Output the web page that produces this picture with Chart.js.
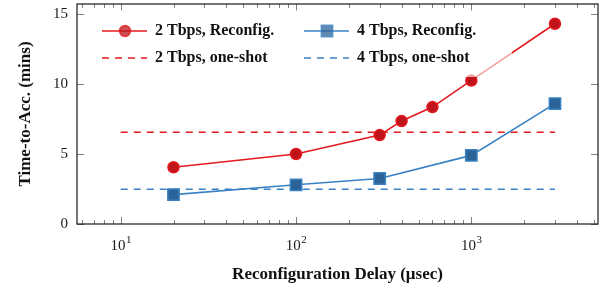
<!DOCTYPE html>
<html>
<head>
<meta charset="utf-8">
<script src="https://cdn.jsdelivr.net/npm/chart.js@4.4.1/dist/chart.umd.min.js"></script>
<style>
  html, body { margin: 0; padding: 0; background: #fff; }
  #wrap { width: 611px; height: 290px; }
</style>
</head>
<body>
<div id="wrap"><canvas id="chart"></canvas></div>
<script>
// reconfiguration delay (usec) and time-to-accuracy (mins)
const delays2 = [20, 100, 300, 400, 600, 1000, 3000];
const reconf2 = [4.05, 5.0, 6.35, 7.35, 8.35, 10.25, 14.3];
const delays4 = [20, 100, 300, 1000, 3000];
const reconf4 = [2.1, 2.8, 3.25, 4.9, 8.6];
const oneShotRange = [10, 3000];
const oneShot2 = 6.55;
const oneShot4 = 2.48;

const xLabelValues = [10, 100, 1000];
const yTickValues = [0, 5, 10, 15];

const RED = '#e3191e';
const RED_FILL = '#c0141b';
const BLUE = '#3a82c4';
const BLUE_FILL = '#2b6398';
const FONT = "'Liberation Serif', serif";

function pts(xs, ys) {
  return xs.map((x, i) => ({ x: x, y: ys[i] }));
}

// inward ticks, frame, superscript labels
const axisDeco = {
  id: 'axisDeco',
  afterDatasetsDraw(chart) {
    const { ctx, chartArea: a } = chart;
    const xs = chart.scales.x, ys = chart.scales.y;
    ctx.save();
    ctx.strokeStyle = '#808080';
    ctx.lineWidth = 1;
    ctx.beginPath();
    for (let p = 0; p <= 4; p++) {
      for (let m = 1; m < 10; m++) {
        const v = m * Math.pow(10, p);
        if (v < xs.min || v > xs.max) continue;
        const px = Math.round(xs.getPixelForValue(v)) + 0.5;
        const len = m === 1 ? 7 : 4;
        ctx.moveTo(px, a.bottom); ctx.lineTo(px, a.bottom - len);
        ctx.moveTo(px, a.top); ctx.lineTo(px, a.top + len);
      }
    }
    yTickValues.forEach(v => {
      const py = Math.round(ys.getPixelForValue(v)) + 0.5;
      ctx.moveTo(a.left, py); ctx.lineTo(a.left + 7, py);
      ctx.moveTo(a.right, py); ctx.lineTo(a.right - 7, py);
    });
    ctx.stroke();

    ctx.strokeStyle = '#1a1a1a';
    ctx.lineWidth = 1.2;
    ctx.strokeRect(a.left, a.top, a.right - a.left, a.bottom - a.top);

    ctx.fillStyle = '#1a1a1a';
    ctx.textBaseline = 'alphabetic';
    xLabelValues.forEach(v => {
      const px = xs.getPixelForValue(v);
      const exp = String(Math.round(Math.log10(v)));
      ctx.font = '15px ' + FONT;
      const w1 = ctx.measureText('10').width;
      ctx.font = '11px ' + FONT;
      const w2 = ctx.measureText(exp).width;
      const x0 = px - (w1 + w2) / 2;
      ctx.font = '15px ' + FONT;
      ctx.textAlign = 'left';
      ctx.fillText('10', x0, 250);
      ctx.font = '11px ' + FONT;
      ctx.fillText(exp, x0 + w1 + 0.5, 243);
    });
    ctx.restore();
  }
};

// legend drawn inside the plot, two columns, semi-transparent box
const insideLegend = {
  id: 'insideLegend',
  afterDatasetsDraw(chart) {
    const { ctx } = chart;
    ctx.save();
    ctx.fillStyle = 'rgba(255,255,255,0.6)';
    ctx.fillRect(95, 10, 417, 67);
    const cols = [102, 304];
    const rows = [31, 58];
    [0, 1, 2, 3].forEach((di, k) => {
      const ds = chart.data.datasets[di];
      const x0 = cols[k % 2], y0 = rows[Math.floor(k / 2)];
      ctx.strokeStyle = ds.borderColor;
      ctx.lineWidth = ds.borderWidth;
      ctx.setLineDash(ds.borderDash || []);
      ctx.beginPath();
      ctx.moveTo(x0, y0); ctx.lineTo(x0 + 45, y0);
      ctx.stroke();
      ctx.setLineDash([]);
      if (ds.pointRadius > 0) {
        ctx.globalAlpha = 0.75;
        ctx.fillStyle = ds.pointBackgroundColor;
        ctx.strokeStyle = ds.pointBorderColor;
        ctx.lineWidth = ds.pointBorderWidth;
        Chart.helpers.drawPoint(ctx, {
          pointStyle: ds.pointStyle, rotation: 0,
          radius: ds.pointRadius, borderWidth: ds.pointBorderWidth
        }, x0 + 23, y0);
        ctx.globalAlpha = 1;
      }
      ctx.fillStyle = '#111';
      ctx.font = 'bold 16px ' + FONT;
      ctx.textAlign = 'left';
      ctx.textBaseline = 'middle';
      ctx.fillText(ds.label, x0 + 53, y0);
    });
    ctx.restore();
  }
};

new Chart(document.getElementById('chart'), {
  type: 'line',
  data: {
    datasets: [
      {
        label: '2 Tbps, Reconfig.',
        data: pts(delays2, reconf2),
        borderColor: RED, borderWidth: 1.6,
        pointStyle: 'circle', pointRadius: 5.5, pointBorderWidth: 1.5,
        pointBackgroundColor: RED_FILL, pointBorderColor: RED
      },
      {
        label: '4 Tbps, Reconfig.',
        data: pts(delays4, reconf4),
        borderColor: BLUE, borderWidth: 1.6,
        pointStyle: 'rect', pointRadius: 8, pointBorderWidth: 1.5,
        pointBackgroundColor: BLUE_FILL, pointBorderColor: BLUE
      },
      {
        label: '2 Tbps, one-shot',
        data: pts(oneShotRange, [oneShot2, oneShot2]),
        borderColor: RED, borderWidth: 1.6, borderDash: [7, 6],
        pointRadius: 0
      },
      {
        label: '4 Tbps, one-shot',
        data: pts(oneShotRange, [oneShot4, oneShot4]),
        borderColor: BLUE, borderWidth: 1.6, borderDash: [7, 6],
        pointRadius: 0
      }
    ]
  },
  options: {
    responsive: true,
    maintainAspectRatio: false,
    animation: false,
    layout: { autoPadding: false, padding: { top: 4, right: 13, left: 0, bottom: 0 } },
    plugins: { legend: { display: false }, tooltip: { enabled: false } },
    scales: {
      x: {
        type: 'logarithmic',
        min: 5.63, max: 5280,
        grid: { display: false, drawTicks: false },
        border: { display: false },
        ticks: { display: false },
        afterFit: s => { s.height = 66; s.paddingLeft = 0; s.paddingRight = 0; },
        title: {
          display: true,
          text: 'Reconfiguration Delay (μsec)',
          color: '#111',
          font: { family: FONT, size: 17, weight: 'bold' },
          padding: { top: 0, bottom: 5 }
        }
      },
      y: {
        type: 'linear',
        min: 0, max: 15.71,
        grid: { display: false, drawTicks: false },
        border: { display: false },
        afterBuildTicks: s => { s.ticks = yTickValues.map(v => ({ value: v })); },
        afterFit: s => { s.width = 77; s.paddingTop = 0; s.paddingBottom = 0; },
        ticks: {
          color: '#1a1a1a',
          padding: 9,
          font: { family: FONT, size: 15 }
        },
        title: {
          display: true,
          text: 'Time-to-Acc. (mins)',
          color: '#111',
          font: { family: FONT, size: 17, weight: 'bold' },
          padding: { top: 15, bottom: 0 }
        }
      }
    }
  },
  plugins: [axisDeco, insideLegend]
});
</script>
</body>
</html>
